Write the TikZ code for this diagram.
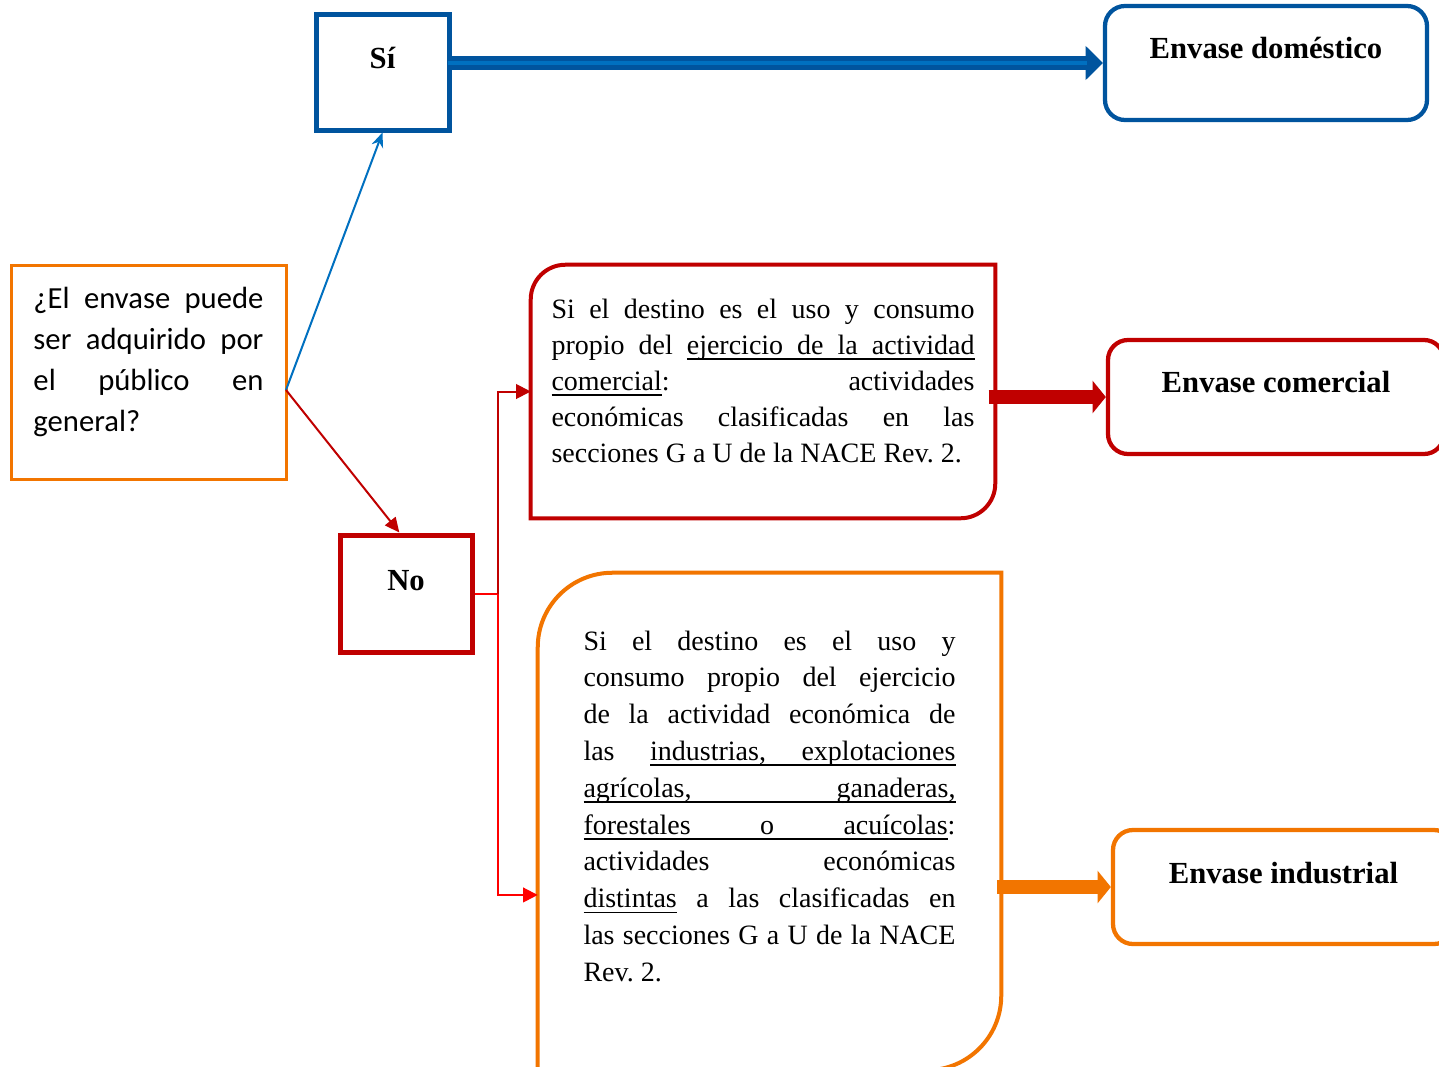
\documentclass[tikz,border=0pt]{standalone}
\usepackage{fontspec}
\setmainfont{Liberation Serif}
\newfontfamily\askfont{Carlito}
\usetikzlibrary{arrows.meta}

\definecolor{siblue}{RGB}{0,84,158}
\definecolor{skyblue}{RGB}{0,112,192}
\definecolor{darkred}{RGB}{192,0,0}
\definecolor{brightred}{RGB}{255,0,0}
\definecolor{envorange}{RGB}{242,117,0}

\newcommand\ulw[1]{\setbox0=\hbox{#1}\rlap{\vrule height -3pt depth 4.2pt width \wd0}\box0\relax}
\newcommand\ulsp{\leaders\hrule height -3pt depth 4.2pt\hskip\fontdimen2\font plus\fontdimen3\font minus\fontdimen4\font\relax}

\begin{document}
\begin{tikzpicture}[x=0.75pt,y=-0.75pt,>=Latex]
\tikzstyle{tag}=[rectangle,inner sep=0pt,align=center,font=\fontsize{23}{27}\selectfont\bfseries]
\tikzstyle{outbox}=[tag,rounded corners=15pt,line width=3.2pt]
\tikzstyle{textblock}=[rectangle,inner ysep=0pt,align=justify,font=\fontsize{21}{27}\selectfont]
\tikzstyle{thin}=[line width=1.5pt]
\tikzstyle{fat}=[line width=11pt]

\useasboundingbox[fill=white] (0,0) rectangle (1439,1067);
\clip (0,0) rectangle (1439,1067);

\node[draw=envorange,line width=2.25pt,inner xsep=16.875pt,inner ysep=0pt,text width=172.5pt,align=justify,
      text height=32.25pt,text depth=128.25pt,font=\askfont\fontsize{23}{30.75}\selectfont] (q) at (148.5,372)
      {¿El envase puede\linebreak ser adquirido por\linebreak el público en\linebreak general?};

\node[tag,draw=siblue,line width=3.75pt,minimum width=99.75pt,text height=40.5pt,text depth=46.5pt] (si) at (382.5,72) {Sí};
\node[tag,draw=darkred,line width=3.75pt,minimum width=99pt,text height=41.25pt,text depth=46.5pt] (no) at (406,593.5) {No};

\node[outbox,draw=siblue,minimum width=241.5pt,text height=39pt,text depth=46.5pt] (dom) at (1266,63) {Envase doméstico};
\node[outbox,draw=darkred,minimum width=252pt,text height=39pt,text depth=46.5pt] (com) at (1276,397) {Envase comercial};
\node[outbox,draw=envorange,minimum width=255.75pt,text height=39.75pt,text depth=45.75pt] (ind) at (1283.5,887) {Envase industrial};

\node[textblock,text width=317.25pt,inner xsep=15.375pt,text height=39.75pt,text depth=150pt] (rcom) at (763,391.5)
  {Si el destino es el uso y consumo\linebreak
   propio del \ulw{ejercicio}\ulsp\ulw{de}\ulsp\ulw{la}\ulsp\ulw{actividad}\linebreak
   \ulw{comercial}: actividades\linebreak
   económicas clasificadas en las\linebreak
   secciones G a U de la NACE Rev.~2.};
\node[textblock,font=\fontsize{21}{27.6}\selectfont,text width=279pt,inner xsep=34.125pt,text height=57.75pt,text depth=315pt] (rind) at (769.5,821.5)
  {Si el destino es el uso y\linebreak
   consumo propio del ejercicio\linebreak
   de la actividad económica de\linebreak
   las \ulw{industrias,}\ulsp\ulw{explotaciones}\linebreak
   \ulw{agrícolas,}\ulsp\ulw{ganaderas,}\linebreak
   \ulw{forestales}\ulsp\ulw{o}\ulsp\ulw{acuícolas}:\linebreak
   actividades económicas\linebreak
   \ulw{distintas} a las clasificadas en\linebreak
   las secciones G a U de la NACE\linebreak
   Rev.~2.};

\draw[darkred,line width=3pt] (rcom.west) [rounded corners=26pt] -- (rcom.north west) -- (rcom.north) [sharp corners] -- (rcom.north east)
  -- (rcom.east) [rounded corners=26pt] -- (rcom.south east) -- (rcom.south) [sharp corners] -- (rcom.south west) -- cycle;
\draw[envorange,line width=3pt] (rind.west) [rounded corners=56pt] -- (rind.north west) -- (rind.north) [sharp corners] -- (rind.north east)
  -- (rind.east) [rounded corners=56pt] -- (rind.south east) -- (rind.south) [sharp corners] -- (rind.south west) -- cycle;

\coordinate (ask) at (286,390);
\coordinate (split) at ([xshift=17.25pt]no.east);
\coordinate (siout) at (si.east |- dom.west);
\coordinate (rcomout) at (rcom.east |- com.west);
\coordinate (rindout) at (rind.east |- ind.west);

\draw[skyblue,thin,-{Stealth[length=11pt,width=9pt]}] (ask) -- (si.south);
\draw[darkred,thin,-{Triangle[length=11pt,width=10pt]}] (ask) -- ([xshift=-5pt]no.north);
\draw[brightred,thin] (no.east) -- (split);
\draw[darkred,thin,-{Triangle[length=11pt,width=11pt]}] (split) |- (rcom.west);
\draw[brightred,thin,-{Triangle[length=11pt,width=11pt]}] (split) |- ([yshift=-55.1pt]rind.west);

\draw[siblue,fat,-{Triangle[length=13pt,width=25pt]}] ([xshift=-3pt]siout) -- (dom.west);
\draw[skyblue,line width=3.5pt,shorten >=12pt] ([xshift=-3pt]siout) -- (dom.west);
\draw[darkred,fat,-{Triangle[length=10pt,width=24pt]}] ([xshift=-5pt]rcomout) -- (com.west);
\draw[envorange,fat,-{Triangle[length=10pt,width=24pt]}] ([xshift=-3pt]rindout) -- (ind.west);
\end{tikzpicture}
\end{document}
